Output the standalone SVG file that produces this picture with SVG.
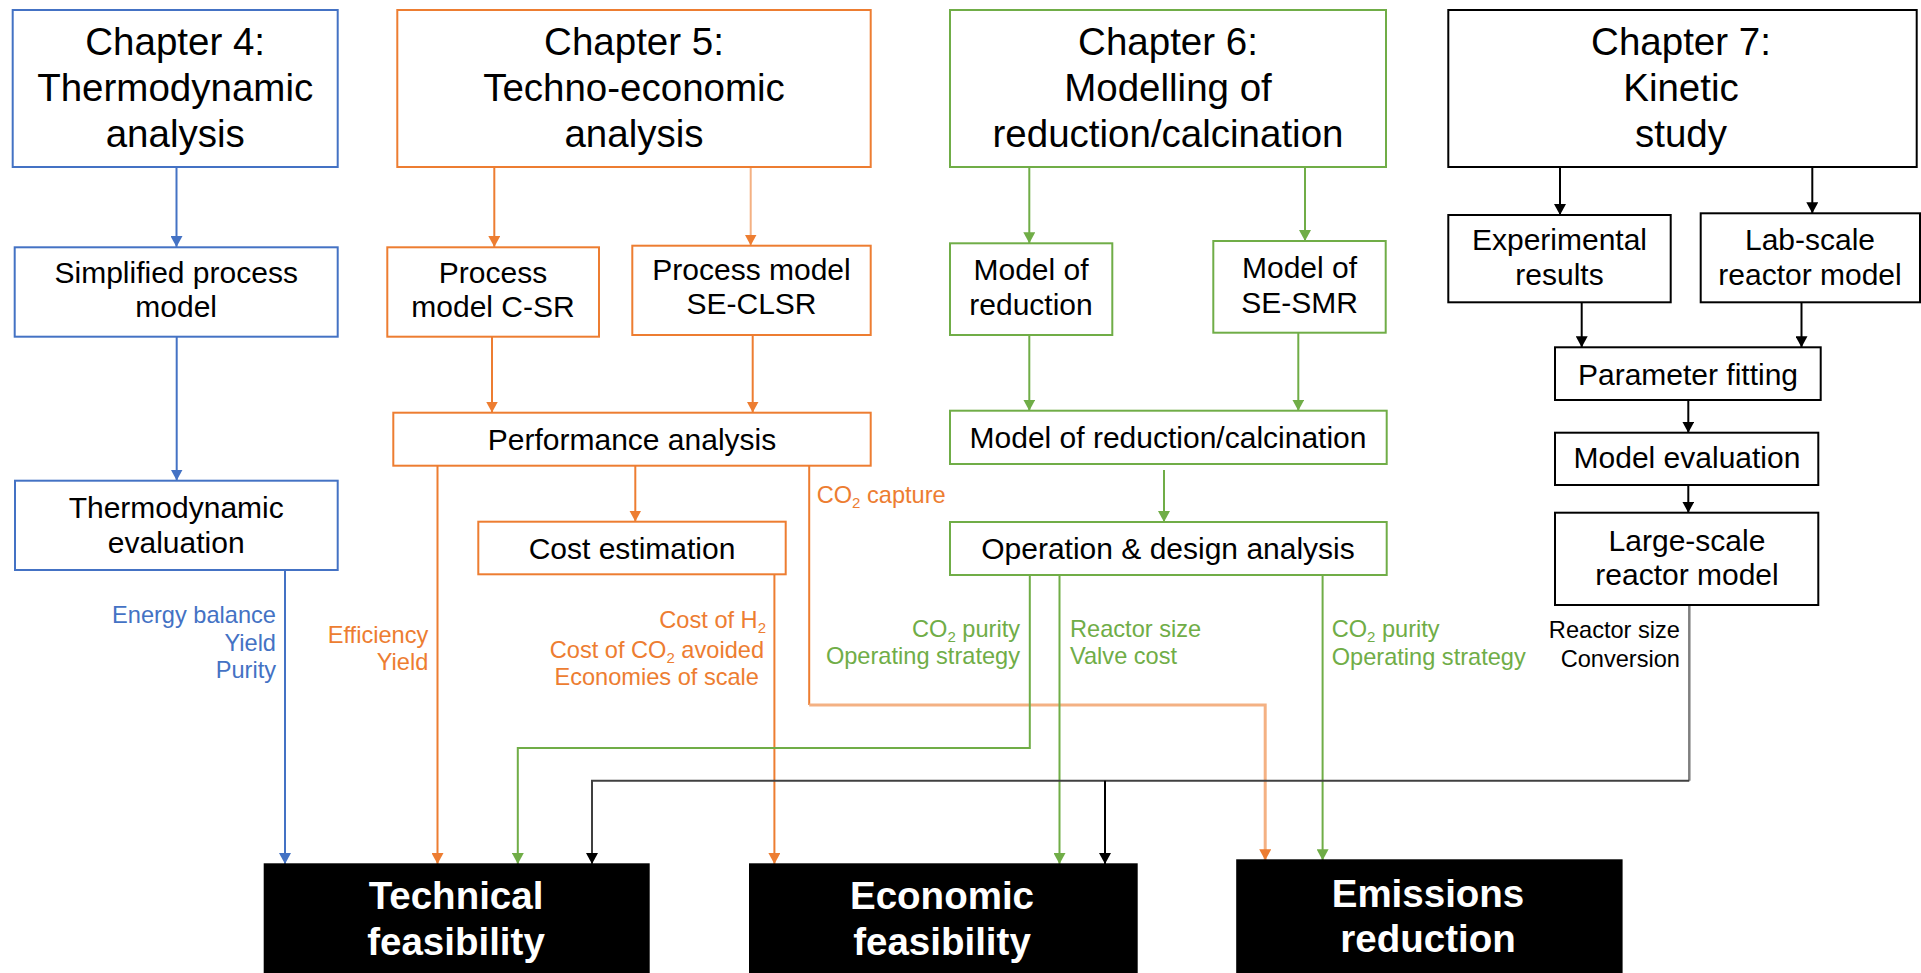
<svg xmlns="http://www.w3.org/2000/svg" width="1921" height="973" viewBox="0 0 1921 973">
<defs>
<style>
text{font-family:"Liberation Sans",Arial,Helvetica,sans-serif;text-anchor:middle;fill:#000}
.h{font-size:38.5px}
.t{font-size:30px}
.l{font-size:23.6px}
.e{text-anchor:end}
.s{text-anchor:start}
.b{font-size:38.5px;font-weight:bold;fill:#fff}
.bx{fill:#fff;stroke-width:2}
.kb{fill:#000;stroke:#000;stroke-width:2}
.cb{stroke:#4472C4}.co{stroke:#ED7D31}.cg{stroke:#70AD47}.ck{stroke:#000}
.fb{fill:#4472C4}.fo{fill:#ED7D31}.fg{fill:#70AD47}
path{fill:none;stroke-width:2}
</style>
<marker id="mb" markerWidth="11" markerHeight="12" refX="11" refY="6" orient="auto" markerUnits="userSpaceOnUse"><path d="M0,0 L11,6 L0,12 z" style="fill:#4472C4;stroke:none"/></marker>
<marker id="mo" markerWidth="11" markerHeight="12" refX="11" refY="6" orient="auto" markerUnits="userSpaceOnUse"><path d="M0,0 L11,6 L0,12 z" style="fill:#ED7D31;stroke:none"/></marker>
<marker id="mg" markerWidth="11" markerHeight="12" refX="11" refY="6" orient="auto" markerUnits="userSpaceOnUse"><path d="M0,0 L11,6 L0,12 z" style="fill:#70AD47;stroke:none"/></marker>
<marker id="mk" markerWidth="11" markerHeight="12" refX="11" refY="6" orient="auto" markerUnits="userSpaceOnUse"><path d="M0,0 L11,6 L0,12 z" style="fill:#000;stroke:none"/></marker>
</defs>
<rect x="0" y="0" width="1921" height="973" fill="#fff"/>

<g id="connectors">
<path class="cb" d="M176.5,167 V247" marker-end="url(#mb)"/>
<path class="cb" d="M176.7,337 V480.5" marker-end="url(#mb)"/>
<path class="cb" d="M285,570 V864" marker-end="url(#mb)"/>

<path class="co" d="M494.3,167 V247" marker-end="url(#mo)"/>
<path d="M750.7,167 V245.5" style="stroke:#F4B183" marker-end="url(#mo)"/>
<path class="co" d="M492,337 V412.5" marker-end="url(#mo)"/>
<path class="co" d="M752.7,335 V412.5" marker-end="url(#mo)"/>
<path class="co" d="M635.3,465.7 V521.5" marker-end="url(#mo)"/>
<path class="co" d="M437.5,465.7 V864" marker-end="url(#mo)"/>
<path class="co" d="M774.4,574.3 V864" marker-end="url(#mo)"/>
<path class="co" d="M809.2,465.7 V705"/>
<path d="M809.2,705 H1265.2 V860.3" style="stroke:#F4B183;stroke-width:3" marker-end="url(#mo)"/>

<path class="cg" d="M1029.3,167 V243.3" marker-end="url(#mg)"/>
<path class="cg" d="M1305,167 V241" marker-end="url(#mg)"/>
<path class="cg" d="M1029.3,335 V410.7" marker-end="url(#mg)"/>
<path class="cg" d="M1298.3,332.7 V410.7" marker-end="url(#mg)"/>
<path class="cg" d="M1164,470 V522" marker-end="url(#mg)"/>
<path class="cg" d="M1029.8,575 V748 H517.8 V864" marker-end="url(#mg)"/>
<path class="cg" d="M1059.5,575 V864" marker-end="url(#mg)"/>
<path class="cg" d="M1322.6,575 V860.3" marker-end="url(#mg)"/>

<path class="ck" d="M1560,167 V215" marker-end="url(#mk)"/>
<path class="ck" d="M1812.3,167 V213.3" marker-end="url(#mk)"/>
<path class="ck" d="M1581.7,302.3 V347.3" marker-end="url(#mk)"/>
<path class="ck" d="M1801.5,302.3 V347.3" marker-end="url(#mk)"/>
<path class="ck" d="M1688.3,400 V432.7" marker-end="url(#mk)"/>
<path class="ck" d="M1688.3,485 V512.7" marker-end="url(#mk)"/>
<path d="M1689.3,605 V780.7" style="stroke:#7F7F7F;stroke-width:2.5"/>
<path d="M1689.3,780.7 H592 V864" style="stroke:#404040" marker-end="url(#mk)"/>
<path class="ck" d="M1105,780.7 V864" marker-end="url(#mk)"/>
</g>

<g id="labels">
<text class="l e fb" x="276" y="622.7">Energy balance</text>
<text class="l e fb" x="276" y="650.7">Yield</text>
<text class="l e fb" x="276" y="678.3">Purity</text>
<text class="l e fo" x="428.3" y="643">Efficiency</text>
<text class="l e fo" x="428.3" y="670">Yield</text>
<text class="l e fo" x="766" y="628.3">Cost of H<tspan font-size="15" dy="5">2</tspan></text>
<text class="l e fo" x="764" y="657.7">Cost of CO<tspan font-size="15" dy="5">2</tspan><tspan dy="-5"> avoided</tspan></text>
<text class="l e fo" x="759" y="685">Economies of scale</text>
<text class="l s fo" x="816.7" y="502.7">CO<tspan font-size="15" dy="5">2</tspan><tspan dy="-5"> capture</tspan></text>
<text class="l e fg" x="1020" y="636.5">CO<tspan font-size="15" dy="5">2</tspan><tspan dy="-5"> purity</tspan></text>
<text class="l e fg" x="1020" y="664">Operating strategy</text>
<text class="l s fg" x="1070" y="636.5">Reactor size</text>
<text class="l s fg" x="1070" y="664">Valve cost</text>
<text class="l s fg" x="1331.7" y="636.5">CO<tspan font-size="15" dy="5">2</tspan><tspan dy="-5"> purity</tspan></text>
<text class="l s fg" x="1331.7" y="664.5">Operating strategy</text>
<text class="l e" x="1680" y="638.3">Reactor size</text>
<text class="l e" x="1680" y="666.5">Conversion</text>
</g>

<g id="ch4">
<rect class="bx cb" x="12.7" y="10" width="325" height="157"/>
<text class="h" x="175.2" y="55">Chapter 4:</text>
<text class="h" x="175.2" y="100.5">Thermodynamic</text>
<text class="h" x="175.2" y="147">analysis</text>
</g>
<g id="simplified">
<rect class="bx cb" x="14.7" y="247.3" width="323" height="89.4"/>
<text class="t" x="176.2" y="282.5">Simplified process</text>
<text class="t" x="176.2" y="316.7">model</text>
</g>
<g id="thermoeval">
<rect class="bx cb" x="15" y="480.7" width="322.7" height="89.3"/>
<text class="t" x="176.2" y="518.3">Thermodynamic</text>
<text class="t" x="176.2" y="552.7">evaluation</text>
</g>

<g id="ch5">
<rect class="bx co" x="397.3" y="10" width="473.4" height="157"/>
<text class="h" x="634" y="55">Chapter 5:</text>
<text class="h" x="634" y="100.5">Techno-economic</text>
<text class="h" x="634" y="147">analysis</text>
</g>
<g id="csr">
<rect class="bx co" x="387.3" y="247.3" width="211.7" height="89.4"/>
<text class="t" x="493" y="283">Process</text>
<text class="t" x="493" y="316.7">model C-SR</text>
</g>
<g id="seclsr">
<rect class="bx co" x="632.3" y="245.7" width="238.4" height="89.3"/>
<text class="t" x="751.5" y="279.5">Process model</text>
<text class="t" x="751.5" y="313.5">SE-CLSR</text>
</g>
<g id="perf">
<rect class="bx co" x="393.3" y="412.7" width="477.4" height="53"/>
<text class="t" x="632" y="450">Performance analysis</text>
</g>
<g id="cost">
<rect class="bx co" x="478.3" y="521.7" width="307.4" height="52.6"/>
<text class="t" x="632" y="559.3">Cost estimation</text>
</g>

<g id="ch6">
<rect class="bx cg" x="950" y="10" width="436" height="157"/>
<text class="h" x="1168" y="55">Chapter 6:</text>
<text class="h" x="1168" y="100.5">Modelling of</text>
<text class="h" x="1168" y="147">reduction/calcination</text>
</g>
<g id="modred">
<rect class="bx cg" x="950" y="243.3" width="162.3" height="91.7"/>
<text class="t" x="1031" y="280">Model of</text>
<text class="t" x="1031" y="315">reduction</text>
</g>
<g id="sesmr">
<rect class="bx cg" x="1213.3" y="241" width="172.4" height="91.7"/>
<text class="t" x="1299.5" y="278">Model of</text>
<text class="t" x="1299.5" y="313">SE-SMR</text>
</g>
<g id="modredcalc">
<rect class="bx cg" x="950" y="410.7" width="436.7" height="53.3"/>
<text class="t" x="1168" y="448.3">Model of reduction/calcination</text>
</g>
<g id="opdesign">
<rect class="bx cg" x="950" y="522" width="436.7" height="53"/>
<text class="t" x="1168" y="559.3">Operation &amp; design analysis</text>
</g>

<g id="ch7">
<rect class="bx ck" x="1448.3" y="10" width="468.4" height="157"/>
<text class="h" x="1681" y="55">Chapter 7:</text>
<text class="h" x="1681" y="100.5">Kinetic</text>
<text class="h" x="1681" y="147">study</text>
</g>
<g id="experimental">
<rect class="bx ck" x="1448.3" y="215" width="222.4" height="87.3"/>
<text class="t" x="1559.5" y="250">Experimental</text>
<text class="t" x="1559.5" y="285">results</text>
</g>
<g id="labscale">
<rect class="bx ck" x="1700.7" y="213.3" width="219.3" height="89"/>
<text class="t" x="1810" y="250">Lab-scale</text>
<text class="t" x="1810" y="285">reactor model</text>
</g>
<g id="paramfit">
<rect class="bx ck" x="1555" y="347.3" width="265.7" height="52.7"/>
<text class="t" x="1688" y="385">Parameter fitting</text>
</g>
<g id="modeleval">
<rect class="bx ck" x="1555" y="432.7" width="263.3" height="52.3"/>
<text class="t" x="1687" y="468.3">Model evaluation</text>
</g>
<g id="largescale">
<rect class="bx ck" x="1555" y="512.7" width="263.3" height="92.3"/>
<text class="t" x="1687" y="550.7">Large-scale</text>
<text class="t" x="1687" y="585">reactor model</text>
</g>

<g id="technical">
<rect class="kb" x="264.7" y="864.3" width="384" height="115"/>
<text class="b" x="456" y="909.3">Technical</text>
<text class="b" x="456" y="955">feasibility</text>
</g>
<g id="economic">
<rect class="kb" x="750" y="864.3" width="386.7" height="115"/>
<text class="b" x="942" y="909.3">Economic</text>
<text class="b" x="942" y="955">feasibility</text>
</g>
<g id="emissions">
<rect class="kb" x="1237.2" y="860.3" width="384.4" height="119"/>
<text class="b" x="1428" y="907.3">Emissions</text>
<text class="b" x="1428" y="952.3">reduction</text>
</g>
</svg>
